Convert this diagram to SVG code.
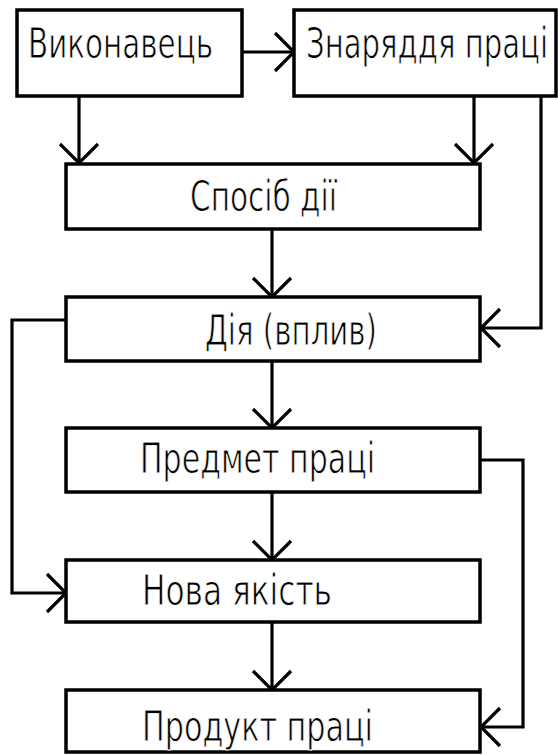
<svg xmlns="http://www.w3.org/2000/svg" width="558" height="755" viewBox="0 0 558 755">
  <style>
    .box { fill: #ffffff; stroke: #000000; stroke-width: 3.5; }
    /* narrow drafting-style lettering: small base size, stretched vertically */
    .lbl { font-family: "DejaVu Sans Condensed", "DejaVu Sans", sans-serif; font-size: 30px; fill: #000000; stroke: #ffffff; stroke-width: 0.6; }
    .wire { fill: none; stroke: #000000; stroke-width: 3.2; }
  </style>
  <defs>
    <marker id="vee" markerUnits="userSpaceOnUse" markerWidth="40" markerHeight="44" refX="20" refY="22" orient="auto" overflow="visible">
      <path d="M 1 3 L 20 22 L 1 41" fill="none" stroke="#000000" stroke-width="3.2"/>
    </marker>
  </defs>
  <rect width="558" height="755" fill="#ffffff"/>

  <!-- connectors -->
  <g id="connectors">
    <path class="wire" d="M 242 52 H 294" marker-end="url(#vee)"/>
    <path class="wire" d="M 79 96 V 163" marker-end="url(#vee)"/>
    <path class="wire" d="M 474 96 V 163" marker-end="url(#vee)"/>
    <path class="wire" d="M 541 96 V 328 H 481" marker-end="url(#vee)"/>
    <path class="wire" d="M 272 229 V 297" marker-end="url(#vee)"/>
    <path class="wire" d="M 66 320 H 12 V 593 H 66" marker-end="url(#vee)"/>
    <path class="wire" d="M 272 361 V 428" marker-end="url(#vee)"/>
    <path class="wire" d="M 481 460 H 523 V 727 H 481" marker-end="url(#vee)"/>
    <path class="wire" d="M 272 492 V 560" marker-end="url(#vee)"/>
    <path class="wire" d="M 272 622 V 690" marker-end="url(#vee)"/>
  </g>

  <!-- nodes -->
  <g id="vykonavets">
    <rect class="box" x="17" y="10" width="225" height="86"/>
    <text class="lbl" transform="translate(28,58) scale(1,1.4)" textLength="185" lengthAdjust="spacingAndGlyphs">Виконавець</text>
  </g>
  <g id="znariaddia">
    <rect class="box" x="294" y="10" width="262" height="86"/>
    <text class="lbl" transform="translate(306,58) scale(1,1.4)" textLength="242" lengthAdjust="spacingAndGlyphs">Знаряддя праці</text>
  </g>
  <g id="sposib">
    <rect class="box" x="66" y="164" width="414" height="65"/>
    <text class="lbl" transform="translate(190,211) scale(1,1.4)" textLength="147" lengthAdjust="spacingAndGlyphs">Спосіб дії</text>
  </g>
  <g id="diia">
    <rect class="box" x="66" y="297" width="414" height="64"/>
    <text class="lbl" transform="translate(205,345) scale(1,1.4)" textLength="172" lengthAdjust="spacingAndGlyphs">Дія (вплив)</text>
  </g>
  <g id="predmet">
    <rect class="box" x="66" y="428" width="414" height="64"/>
    <text class="lbl" transform="translate(140,473) scale(1,1.4)" textLength="235" lengthAdjust="spacingAndGlyphs">Предмет праці</text>
  </g>
  <g id="nova">
    <rect class="box" x="66" y="560" width="414" height="62"/>
    <text class="lbl" transform="translate(142,605) scale(1,1.4)" textLength="190" lengthAdjust="spacingAndGlyphs">Нова якість</text>
  </g>
  <g id="produkt">
    <rect class="box" x="66" y="690" width="414" height="62"/>
    <text class="lbl" transform="translate(142,741) scale(1,1.45)" textLength="231" lengthAdjust="spacingAndGlyphs">Продукт праці</text>
  </g>
</svg>
